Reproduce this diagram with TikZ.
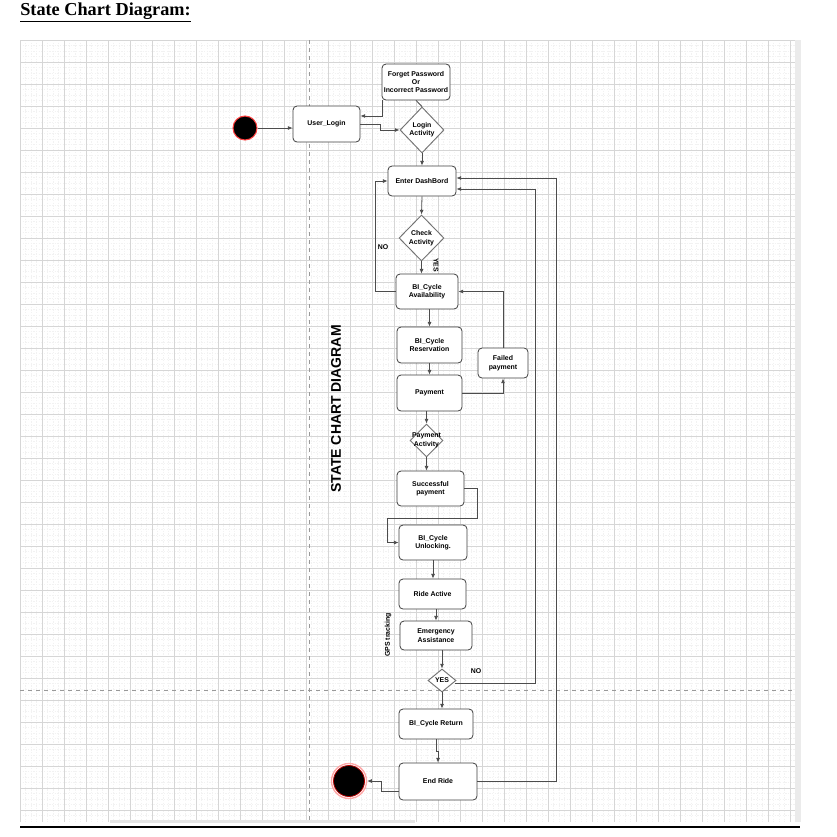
\documentclass[tikz,border=0pt]{standalone}
\usepackage{fontspec}
\setmainfont{Liberation Serif}
\newfontfamily\arialf{Liberation Sans}
\usetikzlibrary{shapes.geometric,arrows.meta,calc}
\tikzset{
  stbox/.style 2 args={rectangle, rounded corners=3pt, draw=black!75, fill=white, line width=0.6pt,
     minimum width=#1*0.75pt, minimum height=#2*0.75pt, inner sep=0pt, align=center,
     font=\arialf\bfseries\fontsize{5.2}{6.3}\selectfont},
  dec/.style 2 args={diamond, draw=black!55, fill=white, line width=0.7pt, inner sep=0pt, aspect=1,
     minimum width=#1*0.75pt, minimum height=#2*0.75pt},
  dectext/.style={align=center, font=\arialf\bfseries\fontsize{5.2}{6.3}\selectfont},
  arr/.style={draw=black!70, line width=0.6pt, -{Latex[length=3.5pt,width=3pt]}},
  ln/.style={draw=black!70, line width=0.6pt},
  lbl/.style={font=\arialf\bfseries\fontsize{5.2}{6.3}\selectfont, inner sep=0pt},
  gridmaj/.style={draw=black!16, line width=0.35pt},
  gridmin/.style={draw=black!5, line width=0.3pt, dash pattern=on 1pt off 1pt},
}
\begin{document}
\begin{tikzpicture}[x=0.75pt,y=-0.75pt]
\useasboundingbox (0,0) rectangle (837,836);
\fill[white] (0,0) rectangle (837,836);
% grid
\foreach \i in {0,...,140} \draw[gridmin] ({20+\i*5.5},40) -- ({20+\i*5.5},822);
\foreach \j in {0,...,141} \draw[gridmin] (20,{40+\j*5.5}) -- (795,{40+\j*5.5});
\foreach \i in {0,...,35} \draw[gridmaj] ({20+\i*22},40) -- ({20+\i*22},822);
\foreach \j in {0,...,35} \draw[gridmaj] (20,{40+\j*22}) -- (795,{40+\j*22});
\fill[black!8] (795,40) rectangle (801,822);
\fill[black!10] (110,820) rectangle (415,823);
\draw[black!40, dashed, line width=0.7pt] (309,40) -- (309,822);
\draw[black!40, dashed, line width=0.7pt] (20,690) -- (795,690);
% title and bottom rule
\node[anchor=base west, inner sep=0pt, font=\bfseries\fontsize{13.7}{16}\selectfont] (title) at (20,15) {\underline{State Chart Diagram:}};
\draw[line width=2.2pt] (20,827) -- (800,827);
% side title
\node[rotate=90, font=\arialf\bfseries\fontsize{10.5}{12}\selectfont, inner sep=0pt] (side) at (336,409) {STATE CHART DIAGRAM};
% states
\node[circle, fill=black, draw=red!75, line width=0.8pt, minimum size=24*0.75pt, inner sep=0pt] (start) at (245,128) {};
\node[stbox={67}{36}] (login) at (326.5,124) {User\_Login};
\node[stbox={68}{36}] (fp) at (416,82) {Forget Password\\Or\\Incorrect Password};
\node[dec={44}{46}, label={[dectext]center:Login\\Activity}] (la) at (422,130) {};
\node[stbox={68}{30}] (dash) at (422,181) {Enter DashBord};
\node[dec={45}{46}, label={[dectext]center:Check\\Activity}] (check) at (421.5,238) {};
\node[stbox={62}{35}] (avail) at (427,291.5) {BI\_Cycle\\Availability};
\node[stbox={65}{36}] (res) at (429.5,345) {BI\_Cycle\\Reservation};
\node[stbox={50}{30}] (failed) at (503,363) {Failed\\payment};
\node[stbox={65}{36}] (pay) at (429.5,393) {Payment};
\node[dec={33}{33}, label={[dectext]center:Payment\\Activity}] (pa) at (426.5,440.5) {};
\node[stbox={67}{35}] (succ) at (430.5,488.5) {Successful\\payment};
\node[stbox={68}{35}] (unl) at (433,542.5) {BI\_Cycle\\Unlocking.};
\node[stbox={67}{30}] (ride) at (432.5,594) {Ride Active};
\node[stbox={72}{29}] (emerg) at (436,635.5) {Emergency\\Assistance};
\node[dec={28}{23}, label={[dectext]center:YES}] (yes) at (442,680.5) {};
\node[stbox={74}{30}] (ret) at (436,724) {BI\_Cycle Return};
\node[stbox={78}{37}] (endr) at (438,781.5) {End Ride};
\node[circle, draw=red!35, line width=1pt, minimum size=35*0.75pt, inner sep=0pt] (finring) at (349,781) {};
\node[circle, fill=black, draw=red!70!black, line width=0.6pt, minimum size=31*0.75pt, inner sep=0pt] (fin) at (349,781) {};
% connectors
\draw[arr] (start.east) -- (start.east -| login.west);
\draw[arr] (login.east) -- ++(20,0) |- (la.west);
\draw[arr] ($(fp.south west)+(1,0)$) |- ($(login.east)+(0,-8)$);
\draw[ln] (la.north) -- (fp.south);
\draw[arr] (la.south) -- (dash.north);
\draw[arr] (avail.west) -- ++(-20,0) |- (dash.west);
\node[lbl] (nolbl1) at (383,247) {NO};
\draw[arr] (dash.south) -- (check.north);
\draw[arr] (check.south) -- (check.south |- avail.north);
\node[lbl, rotate=-90] (yeslbl) at (436,265) {YES};
\draw[arr] (res.north |- avail.south) -- (res.north);
\draw[arr] (res.south) -- (pay.north);
\draw[arr] (pay.east) -| (failed.south);
\draw[arr] (failed.north) |- (avail.east);
\draw[arr] (pa.north |- pay.south) -- (pa.north);
\draw[arr] (pa.south) -- (pa.south |- succ.north);
\draw[arr] (succ.east) -- ++(13,0) -- ++(0,29.5) -| ($(unl.west)+(-11,0)$) -- (unl.west);
\draw[arr] (unl.south) -- (unl.south |- ride.north);
\draw[arr] (emerg.north |- ride.south) -- (emerg.north);
\draw[arr] (yes.north |- emerg.south) -- (yes.north);
\node[lbl, rotate=90] (gps) at (388,635) {GPS tracking};
\draw[arr] ($(yes.east)+(-1,2.5)$) -- (535,683) |- ($(dash.east)+(0,8)$);
\node[lbl] (nolbl2) at (476,671) {NO};
\draw[arr] (yes.south) -- (yes.south |- ret.north);
\draw[arr] (ret.south) -- ++(0,12) -| (endr.north);
\draw[arr] (endr.east) -- (556,781.5) |- ($(dash.east)+(0,-3)$);
\draw[arr] ($(endr.west)+(0,9.5)$) -- ++(-17,0) |- (finring.east);
\end{tikzpicture}
\end{document}
